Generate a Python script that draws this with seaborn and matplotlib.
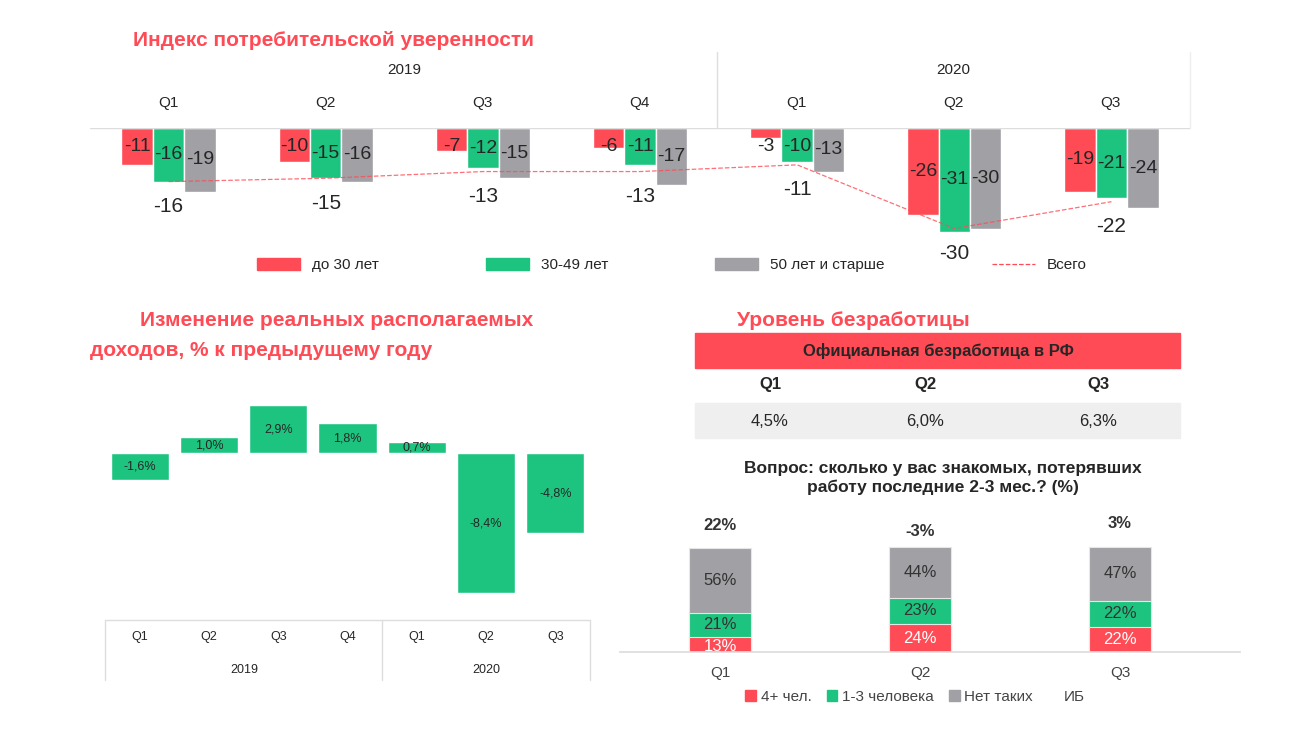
import numpy as np
import pandas as pd
import matplotlib.pyplot as plt
import matplotlib.patches as mpatches
from matplotlib.lines import Line2D
import seaborn as sns

sns.set_theme(style="white")
plt.rcParams["font.family"] = ["Liberation Sans", "DejaVu Sans"]

RED = "#FF4B55"
GREEN = "#1DC47F"
GRAY = "#A0A0A5"
W, H = 1300, 731


def fx(x):
    return x / W


def fy(y):
    return 1 - y / H


def box(x0, y0, x1, y1):
    return [fx(x0), fy(y1), fx(x1) - fx(x0), fy(y0) - fy(y1)]


fig = plt.figure(figsize=(13, 7.31), dpi=100)

# ---------- Индекс потребительской уверенности ----------
quarters = ["Q1", "Q2", "Q3", "Q4", "Q1 ", "Q2 ", "Q3 "]
groups = ["до 30 лет", "30-49 лет", "50 лет и старше"]
idx = {
    "до 30 лет": [-11, -10, -7, -6, -3, -26, -19],
    "30-49 лет": [-16, -15, -12, -11, -10, -31, -21],
    "50 лет и старше": [-19, -16, -15, -17, -13, -30, -24],
}
total = [-16, -15, -13, -13, -11, -30, -22]
df = pd.DataFrame(idx, index=quarters).reset_index(names="q").melt(
    id_vars="q", var_name="grp", value_name="v")

ax = fig.add_axes(box(90, 128, 1190, 262))
sns.barplot(data=df, x="q", y="v", hue="grp", hue_order=groups,
            palette=[RED, GREEN, GRAY], width=0.6, dodge=True, ax=ax,
            legend=False, saturation=1)
for i, g in enumerate(groups):
    for j, v in enumerate(idx[g]):
        ax.text(j + (i - 1) * 0.2, min(v / 2, -5.5), str(v), ha="center",
                va="center", fontsize=14)
ax.plot(range(7), total, ls="--", lw=0.9, color=RED, alpha=0.8)
for j, v in enumerate(total):
    ax.text(j, v - 7.5, str(v), ha="center", va="center", fontsize=15)
ax.set_xlim(-0.5, 6.5)
ax.set_ylim(-40, 0)
ax.axis("off")
ax.axhline(0, color="#dddddd", lw=1)

fig.text(fx(133), fy(40), "Индекс потребительской уверенности", color=RED,
         fontsize=15, fontweight="bold", va="center")
fig.text(fx(404), fy(70), "2019", ha="center", va="center", fontsize=11)
fig.text(fx(953), fy(70), "2020", ha="center", va="center", fontsize=11)
for j, q in enumerate(quarters):
    fig.text(fx(90 + 157 * (j + 0.5)), fy(103), q.strip(), ha="center",
             va="center", fontsize=11)
fig.add_artist(Line2D([fx(717), fx(717)], [fy(52), fy(128)], color="#dddddd", lw=1))
fig.add_artist(Line2D([fx(1190), fx(1190)], [fy(52), fy(128)], color="#eeeeee", lw=1))

handles = [mpatches.Patch(color=RED), mpatches.Patch(color=GREEN),
           mpatches.Patch(color=GRAY),
           Line2D([], [], color=RED, ls="--", lw=0.9)]
fig.legend(handles, groups + ["Всего"], ncol=4, frameon=False,
           loc="center", bbox_to_anchor=(fx(672), fy(265)), fontsize=11,
           columnspacing=7, handlelength=2.8, handleheight=0.9)

# ---------- Реальные располагаемые доходы ----------
income = pd.DataFrame({"q": quarters,
                       "v": [-1.6, 1.0, 2.9, 1.8, 0.7, -8.4, -4.8]})
ax2 = fig.add_axes(box(105, 380, 590, 620))
sns.barplot(data=income, x="q", y="v", color=GREEN, width=0.84, ax=ax2,
            saturation=1)
for j, v in enumerate(income["v"]):
    y = v / 2 if abs(v) > 3 else (v + 0.9 if v > 0 else v - 0.9)
    if v > 0:
        y = v / 2 if v > 2 else v / 2
    ax2.text(j, v / 2, f"{v:.1f}%".replace(".", ","), ha="center",
             va="center", fontsize=9)
ax2.set_xlim(-0.5, 6.5)
ax2.set_ylim(-10, 4.4)
ax2.axis("off")

fig.text(fx(140), fy(320), "Изменение реальных располагаемых",
         color=RED, fontsize=15, fontweight="bold", va="center")
fig.text(fx(90), fy(350), "доходов, % к предыдущему году",
         color=RED, fontsize=15, fontweight="bold", va="center")
fig.add_artist(Line2D([fx(105), fx(590)], [fy(620), fy(620)], color="#dddddd", lw=1))
for xs in (105, 382, 590):
    fig.add_artist(Line2D([fx(xs), fx(xs)], [fy(620), fy(680)], color="#dddddd", lw=1))
for j, q in enumerate(quarters):
    fig.text(fx(105 + 69.3 * (j + 0.5)), fy(637), q.strip(), ha="center",
             va="center", fontsize=9)
fig.text(fx(244), fy(670), "2019", ha="center", va="center", fontsize=9)
fig.text(fx(486), fy(670), "2020", ha="center", va="center", fontsize=9)

# ---------- Уровень безработицы ----------
fig.text(fx(737), fy(320), "Уровень безработицы", color=RED, fontsize=15,
         fontweight="bold", va="center")
fig.add_artist(mpatches.Rectangle((fx(695), fy(368)), fx(485), fy(0) - fy(35),
                                  color=RED, transform=fig.transFigure))
fig.text(fx(938), fy(351), "Официальная безработица в РФ", ha="center",
         va="center", fontsize=12, fontweight="bold")
fig.add_artist(mpatches.Rectangle((fx(695), fy(438)), fx(485), fy(0) - fy(35),
                                  color="#efefef", transform=fig.transFigure))
unemp = {"Q1": "4,5%", "Q2": "6,0%", "Q3": "6,3%"}
for xc, (q, v) in zip((770, 925, 1098), unemp.items()):
    fig.text(fx(xc), fy(385), q, ha="center", va="center", fontsize=12,
             fontweight="bold")
    fig.text(fx(xc), fy(421), v, ha="center", va="center", fontsize=12)

fig.text(fx(943), fy(478), "Вопрос: сколько у вас знакомых, потерявших\nработу последние 2-3 мес.? (%)",
         ha="center", va="center", fontsize=12.5, fontweight="bold",
         linespacing=1.3)

lost = pd.DataFrame({"q": ["Q1", "Q2", "Q3"],
                     "4+ чел.": [13, 24, 22],
                     "1-3 человека": [21, 23, 22],
                     "Нет таких": [56, 44, 47]})
change = ["22%", "-3%", "3%"]
change_y = [109, 104, 111]
ax3 = fig.add_axes(box(620, 520, 1240, 652))
cum = lost[["4+ чел.", "1-3 человека", "Нет таких"]].cumsum(axis=1)
for col, c in zip(["Нет таких", "1-3 человека", "4+ чел."], [GRAY, GREEN, RED]):
    sns.barplot(x=lost["q"], y=cum[col], color=c, width=0.31, ax=ax3,
                saturation=1, edgecolor="#e6e6e6", linewidth=0.8)
for j in range(3):
    bottoms = [0, lost.loc[j, "4+ чел."], cum.loc[j, "1-3 человека"]]
    for k, col in enumerate(["4+ чел.", "1-3 человека", "Нет таких"]):
        v = lost.loc[j, col]
        ax3.text(j, bottoms[k] + v / 2 - (2 if k == 0 and v < 15 else 0),
                 f"{v}%", ha="center", va="center", fontsize=12,
                 color="white" if k == 0 else "#333333")
    ax3.text(j, change_y[j], change[j], ha="center", va="center",
             fontsize=12, fontweight="bold", color="#333333")
ax3.set_xlim(-0.5, 2.6)
ax3.set_ylim(0, 114)
ax3.set_xlabel("")
ax3.set_ylabel("")
ax3.set_yticks([])
ax3.tick_params(axis="x", labelsize=11, colors="#444444", length=0, pad=10)
sns.despine(ax=ax3, left=True)
ax3.spines["bottom"].set_color("#dddddd")
ax3.set_clip_on(False)

h2 = [mpatches.Patch(color=RED), mpatches.Patch(color=GREEN),
      mpatches.Patch(color=GRAY), mpatches.Patch(color="none")]
fig.legend(h2, ["4+ чел.", "1-3 человека", "Нет таких", "ИБ"], ncol=4,
           frameon=False, loc="center", bbox_to_anchor=(fx(915), fy(697)),
           fontsize=11, handlelength=0.7, handleheight=0.7, handletextpad=0.3,
           columnspacing=1.0, labelcolor="#444444")

fig.savefig("out.png", dpi=100, facecolor="white")
